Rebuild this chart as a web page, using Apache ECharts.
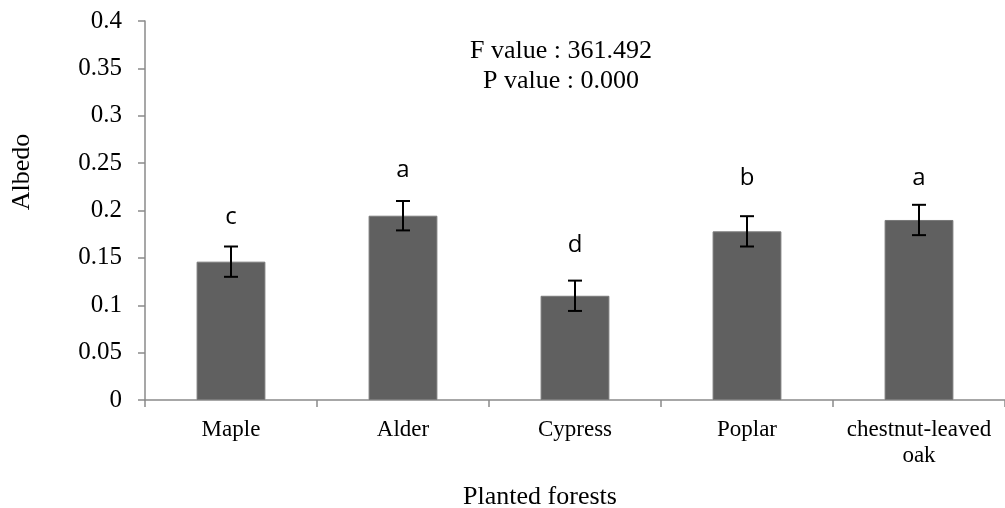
<!DOCTYPE html>
<html>
<head>
<meta charset="utf-8">
<script src="https://cdn.jsdelivr.net/npm/echarts@6/dist/echarts.min.js"></script>
<style>html,body{margin:0;padding:0;background:#fff}#c{width:1005px;height:508px}</style>
</head>
<body>
<div id="c"></div>
<script>
var categories = ['Maple', 'Alder', 'Cypress', 'Poplar', 'chestnut-leaved\noak'];
var albedo = [0.146, 0.1945, 0.110, 0.178, 0.190];
var errors = [0.016, 0.0155, 0.016, 0.016, 0.016];
var letters = ['c', 'a', 'd', 'b', 'a'];
var letterY = [0.187, 0.236, 0.157, 0.228, 0.228];
var statLines = ['F value : 361.492', 'P value : 0.000'];

var chart = echarts.init(document.getElementById('c'));
var serif = 'Liberation Serif';
var axisColor = '#8a8a8a';

chart.setOption({
  animation: false,
  grid: { left: 145, right: -6, top: 21, bottom: 108, containLabel: false },
  xAxis: {
    type: 'category',
    data: categories,
    boundaryGap: true,
    axisLine: { lineStyle: { color: axisColor, width: 1.5 } },
    axisTick: { show: true, alignWithLabel: false, length: 7, lineStyle: { color: axisColor, width: 1.5 } },
    axisLabel: { color: '#000', fontFamily: serif, fontSize: 23, margin: 17, lineHeight: 26, interval: 0 },
    splitLine: { show: false }
  },
  yAxis: {
    type: 'value',
    min: 0, max: 0.4, interval: 0.05,
    axisLine: { show: true, lineStyle: { color: axisColor, width: 1.5 } },
    axisTick: { show: true, length: 7, lineStyle: { color: axisColor, width: 1.5 } },
    axisLabel: { color: '#000', fontFamily: serif, fontSize: 25, margin: 23 },
    splitLine: { show: false }
  },
  graphic: [
    { type: 'text', x: 561, y: 36, style: { text: statLines.join('\n'), fontFamily: serif, fontSize: 26, lineHeight: 30, fill: '#000', align: 'center' } },
    { type: 'text', x: 22, y: 172, rotation: Math.PI / 2, style: { text: 'Albedo', fontFamily: serif, fontSize: 26, fill: '#000', align: 'center', verticalAlign: 'middle' } },
    { type: 'text', x: 540, y: 497, style: { text: 'Planted forests', fontFamily: serif, fontSize: 26, fill: '#000', align: 'center', verticalAlign: 'middle' } }
  ],
  series: [
    {
      type: 'bar',
      data: albedo,
      barWidth: '40%',
      itemStyle: { color: '#606060', borderColor: '#7a7a7a', borderWidth: 1 }
    },
    {
      type: 'custom',
      data: albedo.map(function (v, i) { return [i, v - errors[i], v + errors[i]]; }),
      renderItem: function (params, api) {
        var i = api.value(0);
        var lo = api.coord([i, api.value(1)]);
        var hi = api.coord([i, api.value(2)]);
        var hw = 7;
        var st = { stroke: '#000', lineWidth: 2 };
        return {
          type: 'group',
          children: [
            { type: 'line', shape: { x1: hi[0], y1: hi[1], x2: lo[0], y2: lo[1] }, style: st },
            { type: 'line', shape: { x1: hi[0] - hw, y1: hi[1], x2: hi[0] + hw, y2: hi[1] }, style: st },
            { type: 'line', shape: { x1: lo[0] - hw, y1: lo[1], x2: lo[0] + hw, y2: lo[1] }, style: st }
          ]
        };
      },
      z: 5
    },
    {
      type: 'custom',
      data: letterY.map(function (v, i) { return [i, v]; }),
      renderItem: function (params, api) {
        var p = api.coord([api.value(0), api.value(1)]);
        return {
          type: 'text',
          style: { text: letters[params.dataIndex], x: p[0], y: p[1] + 6, align: 'center', verticalAlign: 'bottom', fontFamily: 'Open Sans', fontSize: 24, fill: '#000' }
        };
      },
      z: 6
    }
  ]
});
</script>
</body>
</html>
